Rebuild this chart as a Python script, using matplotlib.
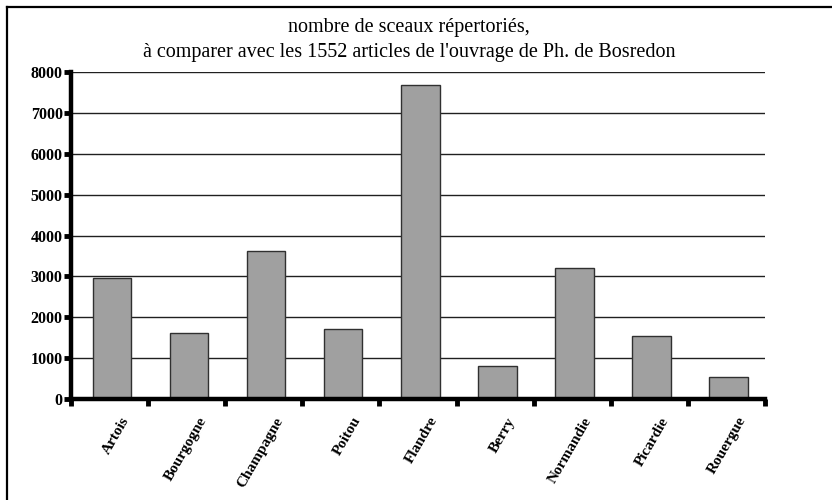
import matplotlib
matplotlib.use("Agg")
import matplotlib.pyplot as plt
from matplotlib.lines import Line2D
import numpy as np

regions = ["Artois", "Bourgogne", "Champagne", "Poitou", "Flandre",
           "Berry", "Normandie", "Picardie", "Rouergue"]
seal_counts = [2950, 1620, 3630, 1720, 7700, 800, 3200, 1540, 540]
y_ticks = [0, 1000, 2000, 3000, 4000, 5000, 6000, 7000, 8000]
title_text = ("nombre de sceaux répertoriés,\n"
              "à comparer avec les 1552 articles de l'ouvrage de Ph. de Bosredon")

plt.rcParams["font.family"] = ["Liberation Serif", "DejaVu Serif"]

fig = plt.figure(figsize=(8.32, 5.0), dpi=100)
W, H = 832, 500
ax = fig.add_axes([71 / W, (H - 398.7) / H, (765 - 71) / W, (398.7 - 72.3) / H])

x = np.arange(len(regions))
ax.bar(x + 0.03, seal_counts, width=0.5, color="#a0a0a0", edgecolor="#303030",
       linewidth=1.0, zorder=3)

ax.set_xlim(-0.5, len(regions) - 0.5)
ax.set_ylim(0, 8000)
ax.set_yticks(y_ticks)
ax.set_yticklabels([str(v) for v in y_ticks], fontweight="bold", fontsize=11.5)

# gridlines
for v in y_ticks[1:]:
    ax.axhline(v, color="#202020", linewidth=1.0, zorder=1)

# category labels at centres, ticks at boundaries
ax.set_xticks(np.arange(len(regions) + 1) - 0.5)
ax.set_xticklabels([])
ax.tick_params(axis="x", direction="out", length=5, width=3.5, color="black")
ax.tick_params(axis="y", direction="out", length=5, width=3.5, color="black", pad=1)
for i, name in enumerate(regions):
    ax.annotate(name, xy=(i, 0), xycoords=("data", "axes fraction"),
                xytext=(12, -14), textcoords="offset points",
                rotation=60, rotation_mode="anchor", ha="right", va="center",
                fontsize=11, fontweight="bold")

for side in ("top", "right"):
    ax.spines[side].set_visible(False)
ax.spines["left"].set_linewidth(3.2)
ax.spines["bottom"].set_linewidth(3.2)
ax.spines["left"].set_zorder(4)
ax.spines["bottom"].set_zorder(4)

fig.text(409 / W, 1 - 40 / H, title_text, ha="center", va="center",
         fontsize=14.5, linespacing=1.4)

# outer frame (top and left edges)
fig.add_artist(Line2D([7 / W, 1.0], [1 - 7 / H, 1 - 7 / H], color="black",
                      linewidth=1.6, transform=fig.transFigure))
fig.add_artist(Line2D([7 / W, 7 / W], [0.0, 1 - 7 / H], color="black",
                      linewidth=1.6, transform=fig.transFigure))

fig.savefig("out.png", dpi=100)
